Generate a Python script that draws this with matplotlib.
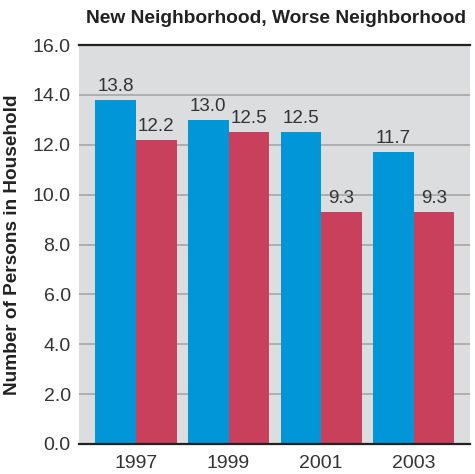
import matplotlib
matplotlib.use("Agg")
import matplotlib.pyplot as plt
import numpy as np

years = ["1997", "1999", "2001", "2003"]
new_nbhd = [13.8, 13.0, 12.5, 11.7]
worse_nbhd = [12.2, 12.5, 9.3, 9.3]
yticks = [0, 2, 4, 6, 8, 10, 12, 14, 16]

plt.rcParams['font.family'] = ['Liberation Sans', 'DejaVu Sans']

fig = plt.figure(figsize=(4.75, 4.74), dpi=100)
ax = fig.add_axes([0.1663, 0.0633, 0.8232, 0.8417])
ax.set_facecolor('#dcdddf')

x = np.arange(len(years))
w = 0.438
b1 = ax.bar(x - w/2, new_nbhd, w, color='#0096d8', zorder=3)
b2 = ax.bar(x + w/2, worse_nbhd, w, color='#c8405c', zorder=3)

for rect, v in zip(list(b1) + list(b2), new_nbhd + worse_nbhd):
    ax.text(rect.get_x() + rect.get_width()/2, v + 0.2, f"{v:.1f}",
            ha='center', va='bottom', fontsize=13.5, color='#333333', zorder=4)

ax.set_ylim(0, 16)
ax.set_xlim(-0.616, 3.61)
ax.set_yticks(yticks)
ax.set_yticklabels([f"{t:.1f}" for t in yticks], fontsize=14, color='#333333')
ax.set_xticks(x)
ax.set_xticklabels(years, fontsize=14, color='#333333')
ax.tick_params(axis='y', length=0, pad=6)
ax.tick_params(axis='x', length=0, pad=8)
ax.yaxis.grid(True, color='#a6a6a6', linewidth=1.2, zorder=1)
ax.axhline(16, color='#222222', linewidth=1.6, zorder=5, clip_on=False)
ax.axhline(0, color='#222222', linewidth=1.6, zorder=5, clip_on=False)
for s in ax.spines.values():
    s.set_visible(False)

ax.set_ylabel("Number of Persons in Household", fontsize=13.7, fontweight='bold',
              color='#222222', labelpad=8)
fig.text(0.58, 0.962, "New Neighborhood, Worse Neighborhood", ha='center', va='center',
         fontsize=13.8, fontweight='bold', color='#222222')

fig.savefig("out.png", dpi=100)
